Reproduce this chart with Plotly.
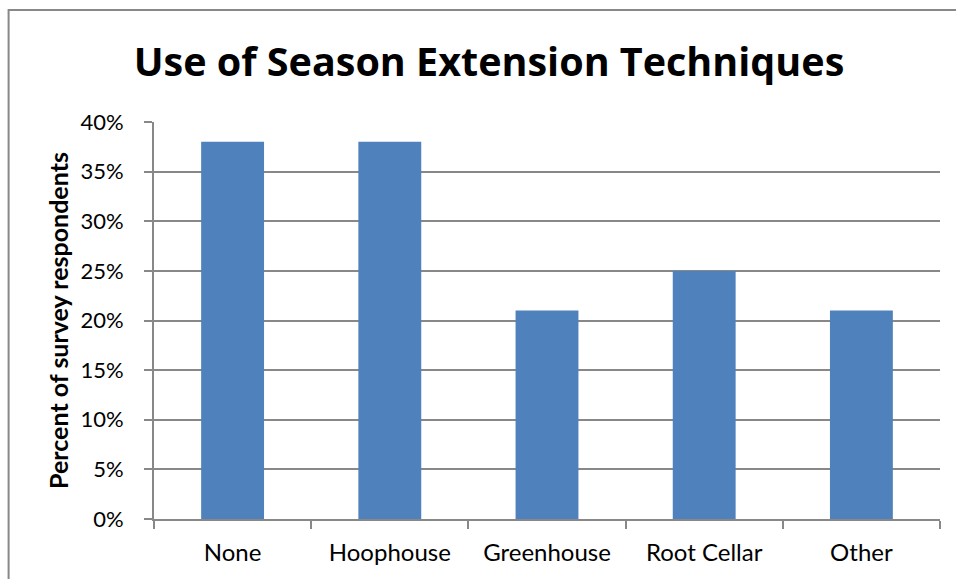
import plotly.graph_objects as go

categories = ["None", "Hoophouse", "Greenhouse", "Root Cellar", "Other"]
percent_values = [0.38, 0.38, 0.21, 0.25, 0.21]
y_tick_values = [0, 0.05, 0.10, 0.15, 0.20, 0.25, 0.30, 0.35, 0.40]
y_tick_labels = ["0%", "5%", "10%", "15%", "20%", "25%", "30%", "35%", "40%"]

FONT = "Lato, 'Open Sans', sans-serif"
TITLE_FONT = "'Open Sans', Lato, sans-serif"
GRID = "#888888"
FIG_W = 956
FIG_H = 579

fig = go.Figure(
    go.Bar(
        x=categories,
        y=percent_values,
        marker=dict(color="#4F81BD", line=dict(width=0)),
        width=0.4,
    )
)

fig.update_layout(
    width=FIG_W,
    height=FIG_H,
    margin=dict(l=154, r=16, t=122, b=60),
    paper_bgcolor="white",
    plot_bgcolor="white",
    showlegend=False,
    title=dict(
        text="<b>Use of Season Extension Techniques</b>",
        x=489 / FIG_W, xref="container", xanchor="center",
        y=1 - 62 / FIG_H, yref="container", yanchor="middle",
        font=dict(family=TITLE_FONT, size=39.5, color="black"),
    ),
    shapes=[
        dict(
            type="rect", xref="paper", yref="paper",
            x0=-0.185, x1=1.2, y0=-0.5, y1=1.282,
            line=dict(color="#888888", width=2), fillcolor="rgba(0,0,0,0)",
            layer="below",
        )
    ],
)

fig.update_xaxes(
    type="category",
    showline=True, linecolor=GRID, linewidth=2,
    ticks="outside", ticklen=8, tickcolor=GRID, tickwidth=1.5,
    tickson="boundaries",
    showgrid=False,
    tickfont=dict(family=FONT, size=24, color="black"),
    ticklabelstandoff=11,
)

fig.update_yaxes(
    range=[0, 0.40],
    tickvals=y_tick_values,
    ticktext=y_tick_labels,
    showline=True, linecolor=GRID, linewidth=2,
    ticks="outside", ticklen=8, tickcolor=GRID, tickwidth=1.5,
    showgrid=True, gridcolor=GRID, gridwidth=1.5,
    zeroline=False,
    tickfont=dict(family=FONT, size=22, color="black"),
    ticklabelstandoff=16,
    title=dict(
        text="<b>Percent of survey respondents</b>",
        font=dict(family=FONT, size=25, color="black"),
        standoff=5,
    ),
)

fig.write_html("out.html")
